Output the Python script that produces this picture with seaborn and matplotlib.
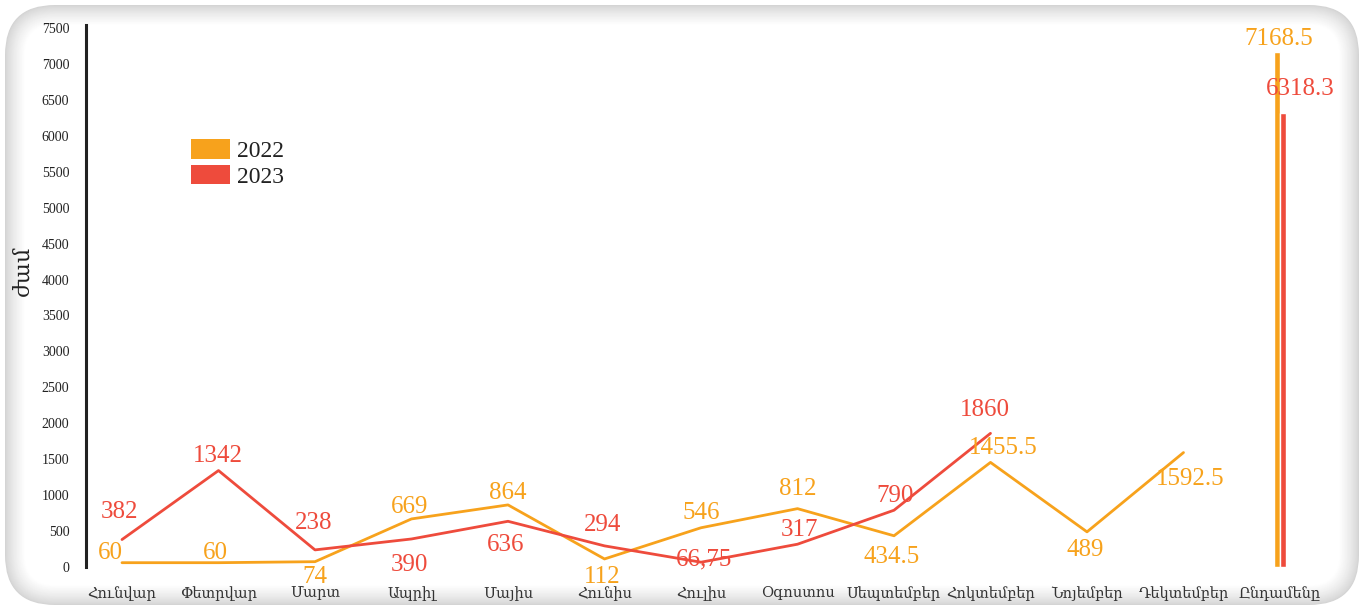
import numpy as np
import pandas as pd
import seaborn as sns
import matplotlib
matplotlib.use("Agg")
import matplotlib.pyplot as plt
from matplotlib.patches import FancyBboxPatch, Patch

# ---------------- data ----------------
categories = ["Հունվար", "Փետրվար", "Մարտ", "Ապրիլ", "Մայիս", "Հունիս", "Հուլիս",
              "Օգոստոս", "Սեպտեմբեր", "Հոկտեմբեր", "Նոյեմբեր", "Դեկտեմբեր", "Ընդամենը"]
years = ["2022", "2023"]
values_2022 = [60, 60, 74, 669, 864, 112, 546, 812, 434.5, 1455.5, 489, 1592.5]
values_2023 = [382, 1342, 238, 390, 636, 294, 66.75, 317, 790, 1860]
labels_2022 = ["60", "60", "74", "669", "864", "112", "546", "812", "434.5", "1455.5", "489", "1592.5"]
labels_2023 = ["382", "1342", "238", "390", "636", "294", "66,75", "317", "790", "1860"]
totals = [7168.5, 6318.3]
total_labels = ["7168.5", "6318.3"]
yticks = list(range(0, 7501, 500))
ylabel = "ժամ"

# ---------------- style ----------------
C22 = "#F7A21C"
C23 = "#EE4B3C"
serif = ["Liberation Serif", "DejaVu Serif"]

sns.set_theme(style="white")
plt.rcParams["font.family"] = serif

W, H, DPI = 1364, 610, 100
fig = plt.figure(figsize=(W / DPI, H / DPI), dpi=DPI)
fig.patch.set_facecolor("white")

# card with soft grey inner shadow
n_layers = 24
for k in range(n_layers):
    inset = 5 + k * 0.85
    t = k / (n_layers - 1)
    g = 0.83 + 0.17 * (t ** 0.75)
    r = max(50 - k * 0.85, 5)
    box = FancyBboxPatch((inset / DPI, inset / DPI),
                         (W - 2 * inset) / DPI, (H - 2 * inset) / DPI,
                         boxstyle=f"round,pad=0,rounding_size={r / DPI}",
                         transform=fig.dpi_scale_trans, facecolor=(g, g, g),
                         edgecolor="none", zorder=0)
    fig.add_artist(box)

# axes placement (pixels)
left_px, right_px, top_px, bot_px = 86, 1345, 25, 567
x0_px, step_px = 122, 96.5
ax = fig.add_axes([left_px / W, 1 - bot_px / H, (right_px - left_px) / W, (bot_px - top_px) / H])
ax.set_facecolor("none")

x_idx = np.arange(len(categories))
df = pd.concat([
    pd.DataFrame({"x": x_idx[:len(values_2022)], "value": values_2022, "year": "2022"}),
    pd.DataFrame({"x": x_idx[:len(values_2023)], "value": values_2023, "year": "2023"}),
])
sns.lineplot(data=df, x="x", y="value", hue="year", palette={"2022": C22, "2023": C23},
             linewidth=2.0, legend=False, ax=ax, sort=False)

# total bars
bw = 0.062
tot_x = x_idx[-1]
ax.bar([tot_x - bw / 2, tot_x + bw / 2], totals, width=bw, color=[C22, C23], zorder=3)

# data labels
FS = 18
off_2022 = [(-12, 10), (-3, 10), (0, -15), (-2, 12), (0, 12), (-2, -18), (0, 15),
            (0, 20), (-2, -21), (13, 14), (-2, -18), (7, -26)]
off_2023 = [(-3, 28), (-1, 15), (-1, 27), (-2, -26), (-2, -24), (-2, 21), (3, 3),
            (2, 14), (1, 14), (-6, 23)]
for i, (v, s) in enumerate(zip(values_2022, labels_2022)):
    ax.annotate(s, (x_idx[i], v), xytext=off_2022[i], textcoords="offset pixels",
                ha="center", va="center", fontsize=FS, color=C22, annotation_clip=False)
for i, (v, s) in enumerate(zip(values_2023, labels_2023)):
    ax.annotate(s, (x_idx[i], v), xytext=off_2023[i], textcoords="offset pixels",
                ha="center", va="center", fontsize=FS, color=C23, annotation_clip=False)
ax.annotate(total_labels[0], (tot_x - bw / 2, totals[0]), xytext=(2, 13), textcoords="offset pixels",
            ha="center", va="center", fontsize=FS, color=C22, annotation_clip=False)
ax.annotate(total_labels[1], (tot_x + bw / 2, totals[1]), xytext=(17, 24), textcoords="offset pixels",
            ha="center", va="center", fontsize=FS, color=C23, annotation_clip=False)

# axes formatting
ax.set_xlim((left_px - x0_px) / step_px, (right_px - x0_px) / step_px)
ax.set_ylim(0, 7500 + 3 / (539 / 7500))
ax.set_xticks(x_idx)
ax.set_xticklabels(categories, fontsize=10.5, color="#333333")
ax.set_yticks(yticks)
ax.set_yticklabels([str(t) for t in yticks], fontsize=10, color="#222222")
ax.tick_params(axis="both", length=0)
ax.tick_params(axis="x", pad=14)
ax.tick_params(axis="y", pad=12)
for side in ["top", "right", "bottom"]:
    ax.spines[side].set_visible(False)
ax.spines["left"].set_color("#222222")
ax.spines["left"].set_linewidth(2.2)
ax.set_xlabel("")
ax.set_ylabel(ylabel, fontsize=16, color="#222222")
ax.yaxis.set_label_coords((34 - left_px) / (right_px - left_px), (bot_px - 271) / (bot_px - top_px))
ax.grid(False)

handles = [Patch(facecolor=C22, edgecolor="none", label=years[0]),
           Patch(facecolor=C23, edgecolor="none", label=years[1])]
leg = ax.legend(handles=handles, loc="upper left",
                bbox_to_anchor=((191 - left_px) / (right_px - left_px),
                                1 - (139 - top_px) / (bot_px - top_px)),
                frameon=False, fontsize=17, handlelength=1.65, handleheight=0.9,
                handletextpad=0.3, labelspacing=0.12, borderaxespad=0, borderpad=0)
for t in leg.get_texts():
    t.set_color("#222222")

fig.savefig("out.png", dpi=DPI)
